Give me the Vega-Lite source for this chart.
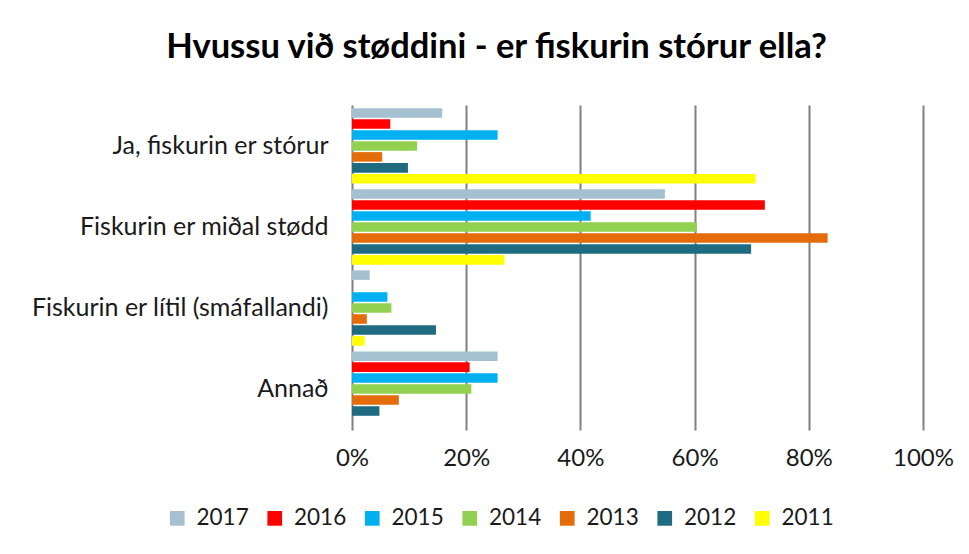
{
  "$schema": "https://vega.github.io/schema/vega-lite/v6.json",
  "width": 571,
  "height": 325,
  "autosize": {"type": "none"},
  "padding": {"left": 352, "top": 105, "right": 46, "bottom": 124},
  "background": "white",
  "title": {
    "text": "Hvussu við støddini - er fiskurin stórur ella?",
    "font": "Lato",
    "fontSize": 34.5,
    "fontWeight": "bold",
    "color": "#000000",
    "anchor": "middle",
    "dx": -141,
    "offset": 40
  },
  "data": {
    "values": [
      {"cat": "Ja, fiskurin er stórur", "year": "2017", "value": 0.158},
      {"cat": "Ja, fiskurin er stórur", "year": "2016", "value": 0.067},
      {"cat": "Ja, fiskurin er stórur", "year": "2015", "value": 0.255},
      {"cat": "Ja, fiskurin er stórur", "year": "2014", "value": 0.114},
      {"cat": "Ja, fiskurin er stórur", "year": "2013", "value": 0.053},
      {"cat": "Ja, fiskurin er stórur", "year": "2012", "value": 0.098},
      {"cat": "Ja, fiskurin er stórur", "year": "2011", "value": 0.707},
      {"cat": "Fiskurin er miðal stødd", "year": "2017", "value": 0.548},
      {"cat": "Fiskurin er miðal stødd", "year": "2016", "value": 0.723},
      {"cat": "Fiskurin er miðal stødd", "year": "2015", "value": 0.418},
      {"cat": "Fiskurin er miðal stødd", "year": "2014", "value": 0.604},
      {"cat": "Fiskurin er miðal stødd", "year": "2013", "value": 0.833},
      {"cat": "Fiskurin er miðal stødd", "year": "2012", "value": 0.699},
      {"cat": "Fiskurin er miðal stødd", "year": "2011", "value": 0.267},
      {"cat": "Fiskurin er lítil (smáfallandi)", "year": "2017", "value": 0.031},
      {"cat": "Fiskurin er lítil (smáfallandi)", "year": "2016", "value": 0.0},
      {"cat": "Fiskurin er lítil (smáfallandi)", "year": "2015", "value": 0.062},
      {"cat": "Fiskurin er lítil (smáfallandi)", "year": "2014", "value": 0.069},
      {"cat": "Fiskurin er lítil (smáfallandi)", "year": "2013", "value": 0.026},
      {"cat": "Fiskurin er lítil (smáfallandi)", "year": "2012", "value": 0.147},
      {"cat": "Fiskurin er lítil (smáfallandi)", "year": "2011", "value": 0.022},
      {"cat": "Annað", "year": "2017", "value": 0.255},
      {"cat": "Annað", "year": "2016", "value": 0.206},
      {"cat": "Annað", "year": "2015", "value": 0.255},
      {"cat": "Annað", "year": "2014", "value": 0.209},
      {"cat": "Annað", "year": "2013", "value": 0.082},
      {"cat": "Annað", "year": "2012", "value": 0.048},
      {"cat": "Annað", "year": "2011", "value": 0.0}
    ]
  },
  "mark": {"type": "bar"},
  "encoding": {
    "y": {
      "field": "cat",
      "type": "nominal",
      "sort": ["Ja, fiskurin er stórur", "Fiskurin er miðal stødd", "Fiskurin er lítil (smáfallandi)", "Annað"],
      "scale": {"paddingInner": 0.07, "paddingOuter": 0.04},
      "axis": {
        "title": null,
        "domain": false,
        "ticks": false,
        "labelFont": "Lato",
        "labelFontSize": 25,
        "labelColor": "#1a1a1a",
        "labelPadding": 24,
        "labelLimit": 400
      }
    },
    "yOffset": {
      "field": "year",
      "type": "nominal",
      "sort": ["2017", "2016", "2015", "2014", "2013", "2012", "2011"],
      "scale": {"paddingInner": 0.13}
    },
    "x": {
      "field": "value",
      "type": "quantitative",
      "scale": {"domain": [0, 1]},
      "axis": {
        "title": null,
        "format": ".0%",
        "values": [0, 0.2, 0.4, 0.6, 0.8, 1],
        "domain": false,
        "ticks": false,
        "grid": true,
        "gridColor": "#808080",
        "gridWidth": 2,
        "labelFont": "Lato",
        "labelFontSize": 24,
        "labelColor": "#1a1a1a",
        "labelPadding": 16,
        "labelFlush": false
      }
    },
    "color": {
      "field": "year",
      "type": "nominal",
      "scale": {
        "domain": ["2017", "2016", "2015", "2014", "2013", "2012", "2011"],
        "range": ["#a5c1d1", "#ff0000", "#00b0f0", "#92d050", "#e46c0a", "#1f6b82", "#ffff00"]
      },
      "legend": {
        "title": null,
        "orient": "none",
        "direction": "horizontal",
        "legendX": -186,
        "legendY": 402,
        "symbolType": "square",
        "symbolSize": 216,
        "symbolStrokeWidth": 0,
        "labelFont": "Lato",
        "labelFontSize": 22.5,
        "labelColor": "#1a1a1a",
        "columnPadding": 14.5,
        "labelOffset": 8
      }
    }
  },
  "config": {
    "view": {"stroke": null}
  }
}
